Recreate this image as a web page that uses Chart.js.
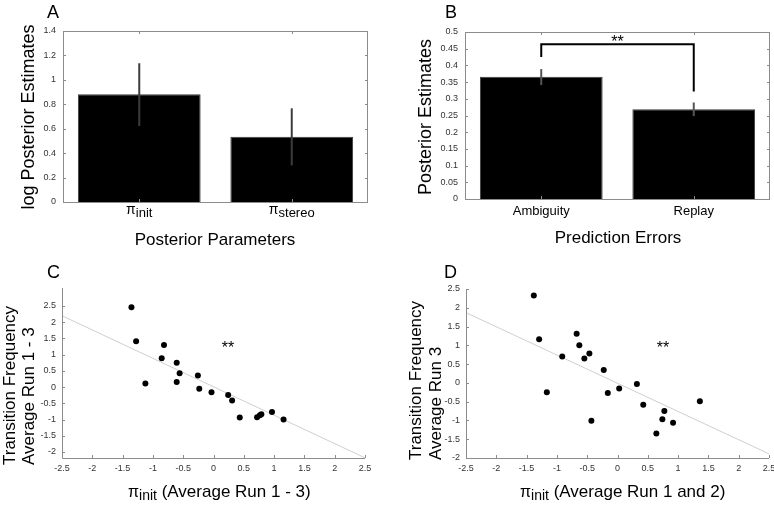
<!DOCTYPE html>
<html>
<head>
<meta charset="utf-8">
<script src="https://cdn.jsdelivr.net/npm/chart.js@4/dist/chart.umd.min.js"></script>
<style>
  html, body { margin: 0; padding: 0; background: #fff; }
  #wrap { position: relative; width: 774px; height: 506px; overflow: hidden; }
  #wrap div { position: absolute; width: 387px; height: 253px; }
  canvas { display: block; }
</style>
</head>
<body>
<div id="wrap">
  <div style="left:0;top:0"><canvas id="chartA" width="387" height="253"></canvas></div>
  <div style="left:387px;top:0"><canvas id="chartB" width="387" height="253"></canvas></div>
  <div style="left:0;top:253px"><canvas id="chartC" width="387" height="253"></canvas></div>
  <div style="left:387px;top:253px"><canvas id="chartD" width="387" height="253"></canvas></div>
</div>
<script>
// ---- Panel A: log posterior estimates per parameter
const paramNames = ["init", "stereo"];
const logPost = [0.882, 0.535];
const logPostLo = [0.622, 0.30];
const logPostHi = [1.136, 0.767];
const ticksA = [0, 0.2, 0.4, 0.6, 0.8, 1, 1.2, 1.4];

// ---- Panel B: posterior estimates per prediction error
const errorTypes = ["Ambiguity", "Replay"];
const postEst = [0.366, 0.269];
const postEstLo = [0.341, 0.248];
const postEstHi = [0.389, 0.289];
const ticksB = [0, 0.05, 0.1, 0.15, 0.2, 0.25, 0.3, 0.35, 0.4, 0.45, 0.5];
const bracketB = [0.463, 0.425, 0.322]; // top, left leg end, right leg end

// ---- Panel C: pi_init vs transition frequency (runs 1-3)
const piInitC = [-1.354, -1.277, -0.817, -0.855, -0.607, -0.559, -1.124, -0.607, -0.258, -0.235,
                 -0.033, 0.242, 0.307, 0.433, 0.719, 0.765, 0.79, 0.965, 1.156];
const transC = [2.46, 1.415, 1.30, 0.89, 0.75, 0.43, 0.11, 0.16, 0.36, -0.05,
                -0.16, -0.24, -0.41, -0.94, -0.93, -0.87, -0.84, -0.77, -1.0];
const fitX = [-2.5, 2.5];
const fitC = [2.2, -2.18];
const starC = [0.24, 1.32];
const ticksX = [-2.5, -2, -1.5, -1, -0.5, 0, 0.5, 1, 1.5, 2, 2.5];
const ticksYC = [-2, -1.5, -1, -0.5, 0, 0.5, 1, 1.5, 2, 2.5];

// ---- Panel D: pi_init (runs 1,2) vs transition frequency (run 3)
const piInitD = [-1.381, -1.293, -1.166, -0.912, -0.674, -0.630, -0.547, -0.464, -0.431, -0.227,
                 -0.160, 0.028, 0.320, 0.425, 0.641, 0.740, 0.773, 0.917, 1.359];
const transD = [2.33, 1.16, -0.25, 0.70, 1.31, 1.00, 0.65, 0.78, -1.01, 0.34,
                -0.27, -0.15, -0.03, -0.58, -1.35, -0.97, -0.75, -1.06, -0.49];
const fitD = [1.87, -1.89];
const starD = [0.75, 1.04];
const ticksYD = [-2, -1.5, -1, -0.5, 0, 0.5, 1, 1.5, 2, 2.5];

const FONT = '"Liberation Sans", Arial, Helvetica, sans-serif';
Chart.defaults.font.family = FONT;
Chart.defaults.color = "#333";
Chart.defaults.animation = false;

const fixWidth = w => s => { s.width = w; s.paddingTop = 0; s.paddingBottom = 0; };
const fixHeight = h => s => { s.height = h; s.paddingLeft = 0; s.paddingRight = 0; };
const useTicks = list => s => { s.ticks = list.map(v => ({ value: v })); };

// text with pieces of different size / offset (for the pi subscript)
function drawRich(ctx, x, y, parts, align) {
  let w = 0;
  parts.forEach(p => { ctx.font = p[1] + "px " + FONT; w += ctx.measureText(p[0]).width; });
  let cx = align === "center" ? x - w / 2 : x;
  ctx.textAlign = "left";
  parts.forEach(p => {
    ctx.font = p[1] + "px " + FONT;
    ctx.fillText(p[0], cx, y + p[2]);
    cx += ctx.measureText(p[0]).width;
  });
}

// frame, inward tick marks, error bars, titles, annotations
const panelPlugin = {
  id: "panel",
  afterDatasetsDraw(chart, args, o) {
    const ctx = chart.ctx, a = chart.chartArea;
    const xs = chart.scales.x, ys = chart.scales.y;
    ctx.save();
    // error bars
    if (o.lo) {
      ctx.strokeStyle = o.errColor;
      ctx.lineWidth = 2;
      chart.getDatasetMeta(0).data.forEach((bar, i) => {
        ctx.beginPath();
        ctx.moveTo(bar.x, ys.getPixelForValue(o.lo[i]));
        ctx.lineTo(bar.x, ys.getPixelForValue(o.hi[i]));
        ctx.stroke();
      });
    }
    // axes / frame
    ctx.strokeStyle = "#8c8c8c";
    ctx.lineWidth = 1;
    ctx.beginPath();
    ctx.moveTo(a.left + 0.5, a.top);
    ctx.lineTo(a.left + 0.5, a.bottom + 0.5);
    ctx.lineTo(a.right, a.bottom + 0.5);
    if (o.box) {
      ctx.lineTo(a.right - 0.5, a.bottom + 0.5);
      ctx.lineTo(a.right - 0.5, a.top + 0.5);
      ctx.lineTo(a.left + 0.5, a.top + 0.5);
    }
    ctx.stroke();
    // inward tick marks
    ctx.beginPath();
    ys.ticks.forEach(t => {
      const py = Math.round(ys.getPixelForValue(t.value)) + 0.5;
      ctx.moveTo(a.left, py); ctx.lineTo(a.left + 3, py);
      if (o.box) { ctx.moveTo(a.right, py); ctx.lineTo(a.right - 3, py); }
    });
    const xVals = o.box ? xs.ticks.map((t, i) => i) : xs.ticks.map(t => t.value);
    xVals.forEach(v => {
      const px = Math.round(xs.getPixelForValue(v)) + 0.5;
      ctx.moveTo(px, a.bottom); ctx.lineTo(px, a.bottom - 3);
      if (o.box) { ctx.moveTo(px, a.top); ctx.lineTo(px, a.top + 3); }
    });
    ctx.stroke();
    ctx.restore();
  },
  afterDraw(chart, args, o) {
    const ctx = chart.ctx;
    const xs = chart.scales.x, ys = chart.scales.y;
    ctx.save();
    ctx.fillStyle = "#000";
    ctx.textBaseline = "alphabetic";
    // panel letter
    ctx.font = "18px " + FONT;
    ctx.textAlign = "left";
    ctx.fillText(o.letter[0], o.letter[1], o.letter[2]);
    // y title (rotated)
    o.yTitle.forEach(l => {
      ctx.save();
      ctx.font = (l.size || 17) + "px " + FONT;
      ctx.translate(l.x, l.y);
      ctx.rotate(-Math.PI / 2);
      ctx.textAlign = l.align;
      ctx.fillText(l.t, 0, 0);
      ctx.restore();
    });
    // x title
    drawRich(ctx, o.xTitle.x, o.xTitle.y, o.xTitle.parts, o.xTitle.align);
    // category labels
    if (o.cats) {
      o.cats.forEach((parts, i) => drawRich(ctx, xs.getPixelForValue(i), o.catY, parts, "center"));
    }
    // significance bracket
    if (o.bracket) {
      const m = chart.getDatasetMeta(0).data;
      const yTop = ys.getPixelForValue(o.bracket[0]);
      ctx.strokeStyle = "#000";
      ctx.lineWidth = 2;
      ctx.beginPath();
      ctx.moveTo(m[0].x, ys.getPixelForValue(o.bracket[1]));
      ctx.lineTo(m[0].x, yTop);
      ctx.lineTo(m[1].x, yTop);
      ctx.lineTo(m[1].x, ys.getPixelForValue(o.bracket[2]));
      ctx.stroke();
      ctx.font = "16px " + FONT;
      ctx.textAlign = "center";
      ctx.fillText("**", (m[0].x + m[1].x) / 2, yTop - 6 + 0.57 * 16);
    }
    if (o.star) {
      ctx.font = "16px " + FONT;
      ctx.textAlign = "center";
      ctx.fillText("**", xs.getPixelForValue(o.star[0]), ys.getPixelForValue(o.star[1]) + 0.57 * 16);
    }
    ctx.restore();
  }
};

const noGrid = { display: false, drawTicks: false, tickLength: 0 };

function barChart(id, labels, values, yMax, ticks, pad, yWidth, xHeight, panel) {
  return new Chart(document.getElementById(id), {
    type: "bar",
    data: {
      labels: labels,
      datasets: [{
        data: values,
        backgroundColor: "#000",
        borderColor: "#3a3a3a",
        borderWidth: 1,
        barPercentage: 0.805,
        categoryPercentage: 1
      }]
    },
    options: {
      responsive: false,
      devicePixelRatio: 1,
      layout: { padding: pad },
      plugins: { legend: { display: false }, tooltip: { enabled: false }, panel: panel },
      scales: {
        x: {
          grid: noGrid, border: { display: false },
          ticks: { display: false },
          afterFit: fixHeight(xHeight)
        },
        y: {
          min: 0, max: yMax,
          grid: noGrid, border: { display: false },
          ticks: { font: { size: 9 }, padding: 7, color: "#333", callback: v => String(v) },
          afterBuildTicks: useTicks(ticks),
          afterFit: fixWidth(yWidth)
        }
      }
    },
    plugins: [panelPlugin]
  });
}

function scatterChart(id, xv, yv, fitY, yMin, yMax, yTicks, pad, yWidth, xHeight, panel) {
  return new Chart(document.getElementById(id), {
    type: "scatter",
    data: {
      datasets: [
        {
          data: xv.map((x, i) => ({ x: x, y: yv[i] })),
          backgroundColor: "#000", borderColor: "#000",
          pointRadius: 3, pointBorderWidth: 0
        },
        {
          type: "line",
          data: fitX.map((x, i) => ({ x: x, y: fitY[i] })),
          borderColor: "#cfcfcf", borderWidth: 1,
          pointRadius: 0, fill: false
        }
      ]
    },
    options: {
      responsive: false,
      devicePixelRatio: 1,
      layout: { padding: pad },
      plugins: { legend: { display: false }, tooltip: { enabled: false }, panel: panel },
      scales: {
        x: {
          type: "linear", min: -2.5, max: 2.5,
          grid: noGrid, border: { display: false },
          ticks: { font: { size: 9 }, padding: 5, color: "#333", maxRotation: 0, autoSkip: false, callback: v => String(v) },
          afterBuildTicks: useTicks(ticksX),
          afterFit: fixHeight(xHeight)
        },
        y: {
          min: yMin, max: yMax,
          grid: noGrid, border: { display: false },
          ticks: { font: { size: 9 }, padding: 6, color: "#333", callback: v => String(v) },
          afterBuildTicks: useTicks(yTicks),
          afterFit: fixWidth(yWidth)
        }
      }
    },
    plugins: [panelPlugin]
  });
}

barChart("chartA", paramNames, logPost, 1.4, ticksA,
  { left: 0, top: 31, right: 19, bottom: 0 }, 63, 51, {
    box: true, lo: logPostLo, hi: logPostHi, errColor: "#3c3c3c",
    letter: ["A", 47, 18],
    yTitle: [{ t: "log Posterior Estimates", x: 34, y: 117, align: "center", size: 18 }],
    xTitle: { x: 215, y: 245, align: "center", parts: [["Posterior Parameters", 17, 0]] },
    cats: paramNames.map(n => [["\u03c0", 14, 0], [n, 13, 3]]), catY: 214
  });

barChart("chartB", errorTypes, postEst, 0.5, ticksB,
  { left: 0, top: 32, right: 4, bottom: 0 }, 78, 54, {
    box: true, lo: postEstLo, hi: postEstHi, errColor: "#555",
    letter: ["B", 58, 18],
    yTitle: [{ t: "Posterior Estimates", x: 44, y: 117, align: "center", size: 18 }],
    xTitle: { x: 231, y: 243, align: "center", parts: [["Prediction Errors", 17, 0]] },
    cats: errorTypes.map(n => [[n, 13, 0]]), catY: 215,
    bracket: bracketB
  });

scatterChart("chartC", piInitC, transC, fitC, -2.185, 3.055, ticksYC,
  { left: 0, top: 35, right: 22, bottom: 0 }, 62, 48, {
    box: false,
    letter: ["C", 47, 25],
    yTitle: [
      { t: "Transition Frequency", x: 15, y: 212, align: "left" },
      { t: "Average Run 1 - 3", x: 34, y: 212, align: "left" }
    ],
    xTitle: { x: 128, y: 244, align: "left", parts: [["\u03c0", 16, 0], ["init", 14, 3], [" (Average Run 1 - 3)", 17, 0]] },
    star: starC
  });

scatterChart("chartD", piInitD, transD, fitD, -2, 2.5, ticksYD,
  { left: 0, top: 36, right: 5, bottom: 0 }, 79, 48, {
    box: false,
    letter: ["D", 57, 25],
    yTitle: [
      { t: "Transition Frequency", x: 34, y: 207, align: "left" },
      { t: "Average Run 3", x: 54, y: 207, align: "left" }
    ],
    xTitle: { x: 133, y: 244, align: "left", parts: [["\u03c0", 16, 0], ["init", 14, 3], [" (Average Run 1 and 2)", 17, 0]] },
    star: starD
  });
</script>
</body>
</html>
